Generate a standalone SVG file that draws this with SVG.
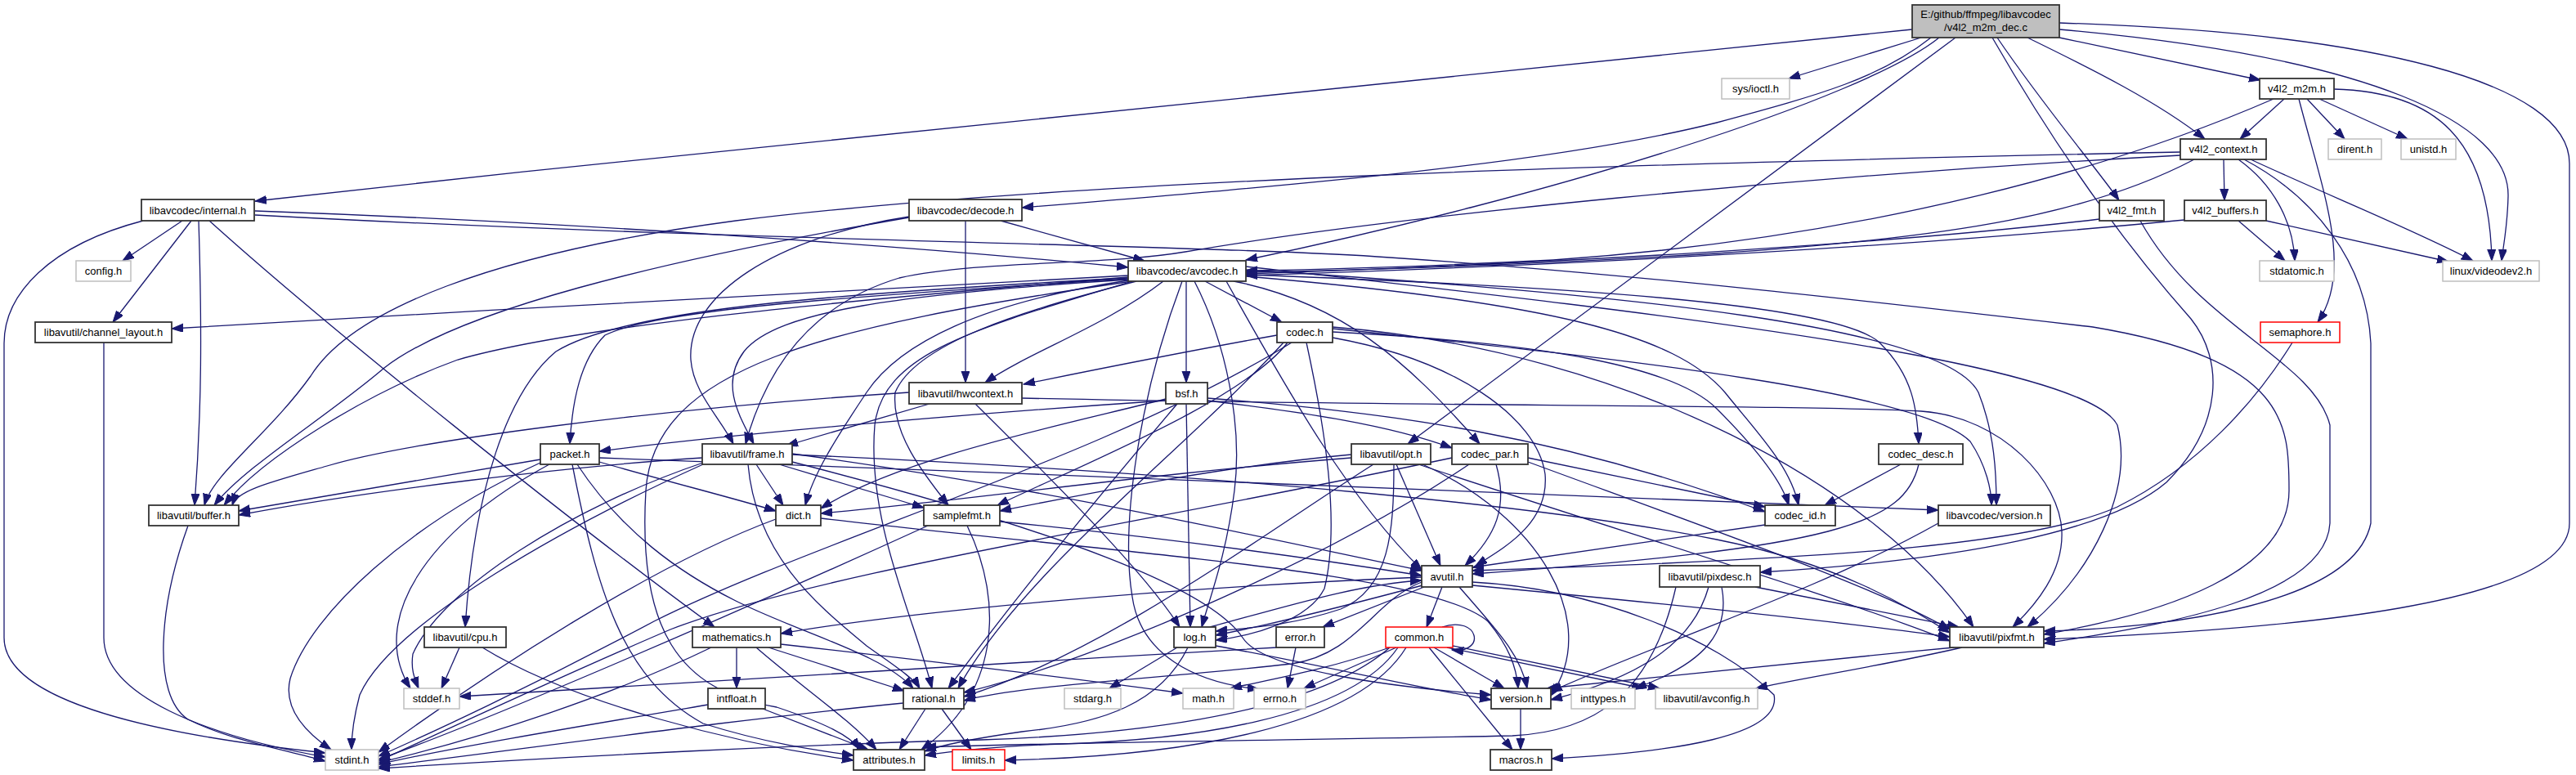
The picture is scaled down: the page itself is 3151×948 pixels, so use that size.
<svg xmlns="http://www.w3.org/2000/svg" width="3151" height="948" viewBox="0 0 3151 948">
<style>
.e path{fill:none;stroke:#191970;stroke-width:1.3;marker-end:url(#a)}
.n rect{fill:#fff;stroke:#333;stroke-width:1.8}
.g rect{fill:#fff;stroke:#bfbfbf;stroke-width:1.5}
.r rect{fill:#fff;stroke:#f00;stroke-width:1.5}
text{font-family:"Liberation Sans",Arial,sans-serif;font-size:13px;text-anchor:middle;fill:#000}
</style>
<defs>
<marker id="a" markerUnits="userSpaceOnUse" markerWidth="15" markerHeight="11" refX="14" refY="5" orient="auto"><path d="M0,0 L14,5 L0,10 z" fill="#191970" stroke="#191970" stroke-width="1"/></marker>
</defs>
<rect width="3151" height="948" fill="#fff"/>
<g id="edges" class="e">
<path d="M2339,36 C1700,96 1000,170 312,246"/>
<path d="M2350,46 L2188,96"/>
<path d="M2362,46 C2300,95 2230,115 2100,150 C1900,200 1600,225 1250,254"/>
<path d="M2372,46 C2280,120 1900,240 1524,318"/>
<path d="M2392,46 L1722,543"/>
<path d="M2437,46 C2520,190 2600,300 2680,390 C2720,440 2720,520 2650,590 C2580,650 2400,685 2153,700"/>
<path d="M2443,46 C2500,130 2560,200 2592,245"/>
<path d="M2480,46 C2560,85 2640,125 2697,170"/>
<path d="M2519,46 L2765,98"/>
<path d="M2519,36 C2900,70 3070,150 3068,240 C3067,280 3062,300 3060,319"/>
<path d="M2519,28 C2900,40 3143,100 3143,200 L3143,640 C3143,740 2800,770 2500,782"/>
<path d="M2794,121 L2740,170"/>
<path d="M2822,121 L2868,170"/>
<path d="M2837,121 L2945,170"/>
<path d="M2855,109 C2980,112 3045,170 3048,319"/>
<path d="M2812,121 C2840,230 2880,330 2835,394"/>
<path d="M2781,121 C2600,200 2300,290 1900,318 C1700,328 1600,330 1524,331"/>
<path d="M2720,195 L2721,245"/>
<path d="M2738,195 C2780,225 2805,270 2807,319"/>
<path d="M2753,195 C2850,240 2950,280 3025,319"/>
<path d="M2745,195 C2830,240 2895,320 2900,420 L2900,640 C2880,740 2650,768 2500,772"/>
<path d="M2667,186 C2000,200 1300,220 900,270 C600,310 430,380 380,460 C330,530 260,580 250,618"/>
<path d="M2667,190 C2200,215 1700,265 1450,308 C1350,325 1200,318 1100,340 C1000,370 940,440 912,543"/>
<path d="M2684,195 C2560,260 2400,290 2100,310 C1900,322 1700,330 1524,333"/>
<path d="M2738,270 L2795,319"/>
<path d="M2772,270 L2995,320"/>
<path d="M2672,269 C2300,305 1900,325 1524,337"/>
<path d="M2568,268 C2300,300 1900,322 1524,335"/>
<path d="M2618,270 C2690,400 2830,440 2850,520 L2850,640 C2845,730 2650,765 2500,787"/>
<path d="M2804,419 C2760,490 2690,570 2590,620 C2480,670 2200,685 1801,698"/>
<path d="M312,263 C900,295 1500,300 1700,315 C2000,335 2300,370 2560,400 C2800,440 2800,520 2800,600 C2800,700 2650,750 2500,776"/>
<path d="M223,270 L150,319"/>
<path d="M234,270 L138,394"/>
<path d="M243,270 C247,400 247,500 238,618"/>
<path d="M256,270 C400,400 700,640 874,767"/>
<path d="M175,270 C60,300 5,360 5,420 L5,780 C5,860 200,900 398,921"/>
<path d="M312,258 C700,272 1100,300 1380,327"/>
<path d="M1224,270 L1400,319"/>
<path d="M1181,270 L1181,468"/>
<path d="M1112,265 C950,290 840,360 845,440 C848,480 880,510 897,543"/>
<path d="M1112,266 C800,320 560,380 470,450 C400,510 300,570 262,618"/>
<path d="M1380,337 C1000,355 600,380 210,402"/>
<path d="M1380,339 C1000,370 700,400 560,440 C450,480 320,560 274,618"/>
<path d="M1380,340 C1000,360 760,380 680,430 C620,480 580,600 569,767"/>
<path d="M1380,341 C1000,365 800,380 740,410 C710,440 700,490 697,543"/>
<path d="M1380,342 C1100,360 950,380 910,430 C880,470 905,510 922,543"/>
<path d="M1423,344 C1350,400 1260,430 1205,468"/>
<path d="M1461,344 C1500,420 1520,520 1510,600 C1500,680 1480,730 1470,767"/>
<path d="M1385,344 C1200,400 1080,430 1070,520 C1060,640 1120,760 1140,842"/>
<path d="M1380,343 C1200,370 1100,420 1060,480 C1020,540 995,580 985,618"/>
<path d="M1390,344 C1250,380 1120,420 1095,480 C1090,530 1130,580 1160,618"/>
<path d="M1385,344 C1000,400 800,450 790,600 C780,770 830,845 950,865 C1010,885 1040,900 1052,917"/>
<path d="M1500,344 C1560,450 1640,600 1739,697"/>
<path d="M1524,326 C2000,380 2550,440 2590,520 C2610,600 2560,700 2480,767"/>
<path d="M1524,330 C2000,360 2380,400 2420,480 C2440,530 2442,580 2442,618"/>
<path d="M1474,344 L1568,394"/>
<path d="M1451,344 L1451,468"/>
<path d="M1524,336 C1900,350 2250,370 2300,420 C2340,460 2345,500 2347,543"/>
<path d="M1509,344 C1640,370 1720,440 1810,543"/>
<path d="M1524,338 C1900,370 2050,410 2110,480 C2150,530 2190,570 2200,618"/>
<path d="M1446,344 C1395,480 1370,640 1385,730 C1395,800 1460,835 1540,843"/>
<path d="M1580,419 C1350,560 1000,660 800,760 C650,840 520,900 463,925"/>
<path d="M1630,413 C1780,440 1880,510 1890,580 C1895,640 1840,670 1805,692"/>
<path d="M1562,410 C1450,430 1350,450 1252,470"/>
<path d="M1598,419 C1620,520 1640,640 1620,720 C1600,760 1530,778 1487,783"/>
<path d="M1630,400 C2000,430 2300,600 2414,767"/>
<path d="M1570,419 C1450,550 1250,700 1172,842"/>
<path d="M1575,419 C1520,490 1320,570 1220,618"/>
<path d="M1630,406 C1900,420 2050,450 2100,500 C2150,550 2180,590 2188,618"/>
<path d="M1630,402 C2000,440 2350,480 2410,540 C2430,570 2436,600 2436,618"/>
<path d="M1451,494 L1456,767"/>
<path d="M1426,488 C1300,520 1100,560 1004,622"/>
<path d="M1440,494 C1350,600 1250,720 1160,842"/>
<path d="M1477,487 C1700,505 1900,530 2159,626"/>
<path d="M1477,490 C1600,505 1700,520 1776,548"/>
<path d="M1426,490 C1200,505 900,530 733,552"/>
<path d="M1776,560 C1400,640 1000,700 820,770 C680,830 530,900 463,931"/>
<path d="M1830,568 C1845,620 1830,655 1792,692"/>
<path d="M1797,568 C1600,700 1300,820 1179,847"/>
<path d="M1869,565 C2100,650 2300,720 2385,770"/>
<path d="M1869,560 L2159,620"/>
<path d="M2325,568 L2232,618"/>
<path d="M2347,568 C2330,640 2250,670 1801,702"/>
<path d="M2159,642 L1801,694"/>
<path d="M2371,640 C2230,720 2020,790 1897,846"/>
<path d="M672,568 C520,650 450,760 502,842"/>
<path d="M661,566 C500,640 380,750 355,830 C345,870 380,900 405,917"/>
<path d="M700,568 C730,720 760,830 860,885 C940,910 1000,918 1044,924"/>
<path d="M661,562 L292,625"/>
<path d="M733,565 C820,590 900,610 949,625"/>
<path d="M706,568 C760,650 830,700 900,735 C980,775 1080,800 1117,842"/>
<path d="M733,560 C1300,580 2000,610 2371,624"/>
<path d="M860,566 C700,620 540,720 505,800 C502,820 508,832 512,842"/>
<path d="M860,568 C700,640 480,760 440,850 C432,880 430,900 430,917"/>
<path d="M969,555 C1300,600 1600,670 1739,698"/>
<path d="M859,560 C700,570 450,600 292,630"/>
<path d="M925,568 L958,618"/>
<path d="M915,568 C925,680 1000,740 1060,790 C1095,815 1118,830 1125,842"/>
<path d="M953,568 L1130,621"/>
<path d="M969,556 C1500,580 1900,620 2100,660 C2250,690 2330,740 2385,774"/>
<path d="M969,565 C1300,650 1480,720 1520,780 C1545,820 1700,840 1824,850"/>
<path d="M1112,480 C800,500 500,540 400,570 C330,590 290,600 284,618"/>
<path d="M1137,494 L962,545"/>
<path d="M1193,494 C1300,600 1400,700 1443,767"/>
<path d="M1250,487 C1700,497 2200,495 2350,503 C2450,510 2520,590 2522,650 C2524,700 2490,740 2462,767"/>
<path d="M1680,568 C1550,650 1350,800 1179,852"/>
<path d="M1708,568 L1762,692"/>
<path d="M1653,560 C1400,580 1200,610 1004,628"/>
<path d="M1705,568 C1705,650 1700,720 1640,745 C1580,765 1530,768 1487,772"/>
<path d="M1735,568 C1950,640 2250,730 2385,784"/>
<path d="M1653,556 C1500,570 1350,600 1223,625"/>
<path d="M1740,568 C1880,630 1960,760 1897,851"/>
<path d="M2147,718 L2396,767"/>
<path d="M2090,718 C2070,790 2000,830 1897,856"/>
<path d="M2106,718 C2116,770 2090,810 2000,842"/>
<path d="M2050,718 C2020,850 1950,895 1850,900 C1600,905 1300,908 1131,914"/>
<path d="M1764,718 L1745,767"/>
<path d="M1742,718 L1618,767"/>
<path d="M1739,712 C1680,735 1660,800 1580,812 C1420,830 1250,838 1179,857"/>
<path d="M1785,718 C1830,770 1860,800 1868,842"/>
<path d="M1801,712 C1950,720 2100,780 2170,850 C2180,900 2050,920 1898,928"/>
<path d="M1739,706 C1400,720 1100,750 955,775"/>
<path d="M1740,716 C1650,740 1550,765 1487,777"/>
<path d="M1801,716 C2000,735 2250,760 2385,779"/>
<path d="M1480,767 C1580,740 1660,715 1739,710"/>
<path d="M1440,792 L1357,842"/>
<path d="M1453,792 C1420,860 1350,885 1250,895 C1180,905 1150,912 1131,919"/>
<path d="M1487,790 C1600,810 1750,845 1824,856"/>
<path d="M1585,792 L1575,842"/>
<path d="M1562,792 C1200,812 800,840 562,852"/>
<path d="M1764,767 C1810,752 1818,800 1776,795"/>
<path d="M1708,792 L1595,842"/>
<path d="M1754,792 L1840,842"/>
<path d="M1748,792 L1850,917"/>
<path d="M1770,792 L2010,842"/>
<path d="M1777,790 L2030,842"/>
<path d="M1700,792 C1620,820 1560,830 1505,842"/>
<path d="M1700,792 C1600,880 1350,900 1200,905 C1000,910 700,925 463,940"/>
<path d="M1710,792 C1650,880 1450,905 1300,910 C1220,913 1170,918 1131,924"/>
<path d="M1720,792 C1660,890 1450,925 1229,930"/>
<path d="M2400,792 C2300,815 2200,830 2148,842"/>
<path d="M2390,792 C2200,810 2000,830 1892,842"/>
<path d="M901,792 L901,842"/>
<path d="M940,792 L1106,845"/>
<path d="M925,792 C980,840 1040,880 1072,917"/>
<path d="M955,788 C1150,810 1350,835 1447,848"/>
<path d="M870,792 C750,850 600,900 463,933"/>
<path d="M866,862 C700,890 550,915 463,935"/>
<path d="M933,867 L1062,917"/>
<path d="M1105,860 C900,880 650,915 463,938"/>
<path d="M1132,867 L1100,917"/>
<path d="M1152,867 L1188,917"/>
<path d="M1135,643 C900,750 600,880 463,929"/>
<path d="M1223,638 C1450,660 1650,690 1739,704"/>
<path d="M1183,643 C1230,740 1220,850 1127,917"/>
<path d="M949,635 C800,690 600,820 463,920"/>
<path d="M1004,634 C1400,680 1750,700 1820,760 C1845,790 1855,815 1857,842"/>
<path d="M230,643 C195,740 185,850 230,880 C280,905 340,915 398,931"/>
<path d="M127,419 L127,780 C127,850 250,900 398,926"/>
<path d="M562,792 L540,842"/>
<path d="M590,792 C700,860 900,910 1044,930"/>
<path d="M1860,867 L1860,917"/>
</g>
<g id="main" class="n"><rect x="2339" y="6" width="180" height="40" style="fill:#bfbfbf"/><text x="2429" y="22">E:/github/ffmpeg/libavcodec</text><text x="2429" y="38">/v4l2_m2m_dec.c</text></g>
<g id="sys_ioctl" class="g"><rect x="2106" y="96" width="83" height="25"/><text x="2147.5" y="113">sys/ioctl.h</text></g>
<g id="v4l2_m2m" class="n"><rect x="2764" y="96" width="91" height="25"/><text x="2809.5" y="113">v4l2_m2m.h</text></g>
<g id="internal" class="n"><rect x="173" y="244" width="138" height="26"/><text x="242" y="262">libavcodec/internal.h</text></g>
<g id="decode" class="n"><rect x="1112" y="244" width="138" height="26"/><text x="1181" y="262">libavcodec/decode.h</text></g>
<g id="v4l2_context" class="n"><rect x="2667" y="170" width="105" height="25"/><text x="2719.5" y="187">v4l2_context.h</text></g>
<g id="dirent" class="g"><rect x="2848" y="170" width="65" height="25"/><text x="2880.5" y="187">dirent.h</text></g>
<g id="unistd" class="g"><rect x="2937" y="170" width="67" height="25"/><text x="2970.5" y="187">unistd.h</text></g>
<g id="v4l2_fmt" class="n"><rect x="2568" y="245" width="79" height="25"/><text x="2607.5" y="262">v4l2_fmt.h</text></g>
<g id="v4l2_buffers" class="n"><rect x="2672" y="245" width="100" height="25"/><text x="2722" y="262">v4l2_buffers.h</text></g>
<g id="config" class="g"><rect x="93" y="319" width="67" height="25"/><text x="126.5" y="336">config.h</text></g>
<g id="avcodec" class="n"><rect x="1380" y="319" width="144" height="25"/><text x="1452" y="336">libavcodec/avcodec.h</text></g>
<g id="stdatomic" class="g"><rect x="2764" y="319" width="91" height="25"/><text x="2809.5" y="336">stdatomic.h</text></g>
<g id="videodev2" class="g"><rect x="2988" y="319" width="118" height="25"/><text x="3047" y="336">linux/videodev2.h</text></g>
<g id="channel_layout" class="n"><rect x="43" y="394" width="167" height="25"/><text x="126.5" y="411">libavutil/channel_layout.h</text></g>
<g id="codec" class="n"><rect x="1562" y="394" width="68" height="25"/><text x="1596" y="411">codec.h</text></g>
<g id="semaphore" class="r"><rect x="2765" y="394" width="97" height="25"/><text x="2813.5" y="411">semaphore.h</text></g>
<g id="hwcontext" class="n"><rect x="1112" y="468" width="138" height="26"/><text x="1181" y="486">libavutil/hwcontext.h</text></g>
<g id="bsf" class="n"><rect x="1426" y="468" width="51" height="26"/><text x="1451.5" y="486">bsf.h</text></g>
<g id="packet" class="n"><rect x="661" y="543" width="72" height="25"/><text x="697" y="560">packet.h</text></g>
<g id="frame" class="n"><rect x="859" y="543" width="110" height="25"/><text x="914" y="560">libavutil/frame.h</text></g>
<g id="opt" class="n"><rect x="1653" y="543" width="97" height="25"/><text x="1701.5" y="560">libavutil/opt.h</text></g>
<g id="codec_par" class="n"><rect x="1776" y="543" width="93" height="25"/><text x="1822.5" y="560">codec_par.h</text></g>
<g id="codec_desc" class="n"><rect x="2298" y="543" width="103" height="25"/><text x="2349.5" y="560">codec_desc.h</text></g>
<g id="buffer" class="n"><rect x="182" y="618" width="110" height="25"/><text x="237" y="635">libavutil/buffer.h</text></g>
<g id="dict" class="n"><rect x="949" y="618" width="55" height="25"/><text x="976.5" y="635">dict.h</text></g>
<g id="samplefmt" class="n"><rect x="1130" y="618" width="93" height="25"/><text x="1176.5" y="635">samplefmt.h</text></g>
<g id="codec_id" class="n"><rect x="2159" y="618" width="86" height="25"/><text x="2202" y="635">codec_id.h</text></g>
<g id="lavc_version" class="n"><rect x="2371" y="618" width="137" height="25"/><text x="2439.5" y="635">libavcodec/version.h</text></g>
<g id="avutil" class="n"><rect x="1739" y="692" width="62" height="26"/><text x="1770" y="710">avutil.h</text></g>
<g id="pixdesc" class="n"><rect x="2030" y="692" width="123" height="26"/><text x="2091.5" y="710">libavutil/pixdesc.h</text></g>
<g id="cpu" class="n"><rect x="519" y="767" width="100" height="25"/><text x="569" y="784">libavutil/cpu.h</text></g>
<g id="mathematics" class="n"><rect x="847" y="767" width="108" height="25"/><text x="901" y="784">mathematics.h</text></g>
<g id="log" class="n"><rect x="1436" y="767" width="51" height="25"/><text x="1461.5" y="784">log.h</text></g>
<g id="error" class="n"><rect x="1561" y="767" width="59" height="25"/><text x="1590.5" y="784">error.h</text></g>
<g id="common" class="r"><rect x="1695" y="767" width="82" height="25"/><text x="1736" y="784">common.h</text></g>
<g id="pixfmt" class="n"><rect x="2385" y="767" width="115" height="25"/><text x="2442.5" y="784">libavutil/pixfmt.h</text></g>
<g id="stddef" class="g"><rect x="494" y="842" width="68" height="25"/><text x="528" y="859">stddef.h</text></g>
<g id="intfloat" class="n"><rect x="866" y="842" width="70" height="25"/><text x="901" y="859">intfloat.h</text></g>
<g id="rational" class="n"><rect x="1105" y="842" width="74" height="25"/><text x="1142" y="859">rational.h</text></g>
<g id="stdarg" class="g"><rect x="1302" y="842" width="69" height="25"/><text x="1336.5" y="859">stdarg.h</text></g>
<g id="math" class="g"><rect x="1447" y="842" width="62" height="25"/><text x="1478" y="859">math.h</text></g>
<g id="errno" class="g"><rect x="1534" y="842" width="63" height="25"/><text x="1565.5" y="859">errno.h</text></g>
<g id="version" class="n"><rect x="1824" y="842" width="73" height="25"/><text x="1860.5" y="859">version.h</text></g>
<g id="inttypes" class="g"><rect x="1922" y="842" width="78" height="25"/><text x="1961" y="859">inttypes.h</text></g>
<g id="avconfig" class="g"><rect x="2025" y="842" width="125" height="25"/><text x="2087.5" y="859">libavutil/avconfig.h</text></g>
<g id="stdint" class="g"><rect x="398" y="917" width="65" height="25"/><text x="430.5" y="934">stdint.h</text></g>
<g id="attributes" class="n"><rect x="1044" y="917" width="87" height="25"/><text x="1087.5" y="934">attributes.h</text></g>
<g id="limits" class="r"><rect x="1165" y="917" width="64" height="25"/><text x="1197" y="934">limits.h</text></g>
<g id="macros" class="n"><rect x="1823" y="917" width="75" height="25"/><text x="1860.5" y="934">macros.h</text></g>
</svg>
